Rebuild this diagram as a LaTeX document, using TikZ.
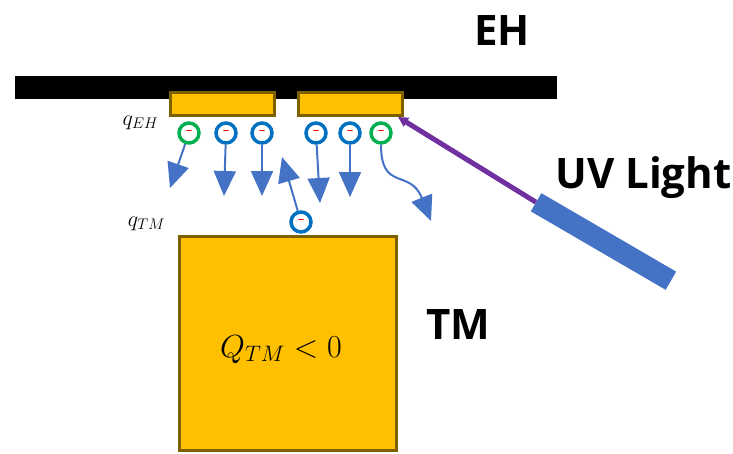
\documentclass[tikz,border=0pt]{standalone}
\usepackage{fix-cm}
\usepackage{fontspec}
\setmainfont{Open Sans}
\usepackage{amsmath}
\usetikzlibrary{arrows.meta,positioning}
\definecolor{gold}{HTML}{FFC000}
\definecolor{goldedge}{HTML}{7F6000}
\definecolor{flow}{HTML}{4472C4}
\definecolor{ering}{HTML}{0070C0}
\definecolor{ering2}{HTML}{00B050}
\definecolor{uvpurple}{HTML}{7030A0}

\begin{document}
\begin{tikzpicture}[
  x=1pt,y=-1pt,
  plate/.style={draw=goldedge,fill=gold,line width=3pt,inner sep=0pt},
  elec/.style={circle,draw=ering,line width=3.5pt,fill=white,minimum size=20pt,
               inner sep=0pt,text=red,font=\fontsize{13}{13}\selectfont},
  hot/.style={elec,draw=ering2},
  arr/.style={-{Triangle[length=25pt,width=22pt]},flow,line width=2pt},
  big/.style={font=\fontsize{42}{42}\selectfont\bfseries,anchor=base},
  small/.style={font=\fontsize{22}{22}\selectfont,anchor=base}
]
  \useasboundingbox (0,0) rectangle (733,453);

  % housing and electrodes
  \node[fill=black,minimum width=542pt,minimum height=23pt,inner sep=0pt]
       (bar) at (286,87.5) {};
  \node[plate,minimum width=104pt,minimum height=23pt](elecL) at (222.5,104){};
  \node[plate,minimum width=104pt,minimum height=23pt](elecR) at (350.5,104){};
  \node[plate,minimum width=217pt,minimum height=214pt](tm) at (288,343.5){};

  % photoelectrons
  \node[hot] (e1) at (189,133) {--};
  \node[elec](e2) at (226,133) {--};
  \node[elec](e3) at (262,133) {--};
  \node[elec](e4) at (316,133) {--};
  \node[elec](e5) at (350,133) {--};
  \node[hot] (e6) at (381,133) {--};
  \node[elec](eTM) at (301,222) {--};

  \coordinate (t1) at (170,188);
  \coordinate (t2) at (224,196);
  \coordinate (t3) at (262,196);
  \coordinate (t4) at (320,203);
  \coordinate (t5) at (350,197);
  \coordinate (t6) at (431,221);
  \coordinate (tTM) at (282,157);

  \draw[arr](e1)--(t1);
  \draw[arr](e2)--(t2);
  \draw[arr](e3)--(t3);
  \draw[arr](e4)--(t4);
  \draw[arr](e5)--(t5);
  \draw[arr](eTM)--(tTM);
  \draw[arr](e6.south) .. controls (381,192) and (410,168) .. (t6);

  % UV lamp
  \node[fill=flow,minimum width=156pt,minimum height=21pt,inner sep=0pt,
        rotate=-30.2](lamp) at (603.5,241.5){};
  \draw[-{Triangle[length=10pt,width=10pt]},uvpurple,line width=5pt]
       (lamp.west)--([xshift=-6pt]elecR.south east);

  % labels
  \node[big](lblEH) at (502,45) {EH};
  \node[big](lblTM) at (458.5,339) {TM};
  \node[big](lblUV) at (643.5,188) {UV Light};
  \node[font=\fontsize{32}{32}\selectfont,anchor=base](lblQ) at (281,357)
       {$Q_{TM}<0$};
  \node[small](lblqEH) at (140.5,125) {$q_{EH}$};
  \node[small](lblqTM) at (146.5,226) {$q_{TM}$};
\end{tikzpicture}
\end{document}
